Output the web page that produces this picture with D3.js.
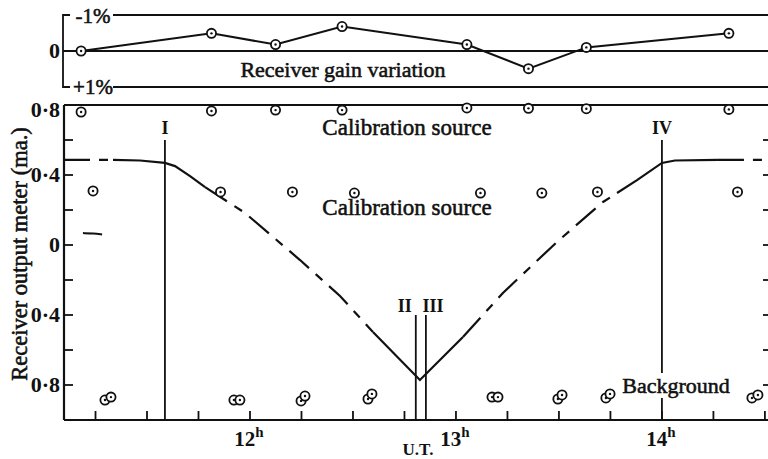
<!DOCTYPE html>
<html>
<head>
<meta charset="utf-8">
<script src="https://cdn.jsdelivr.net/npm/d3@7"></script>
<style>
  body { margin: 0; background: #fff; }
  svg { display: block; }
  text { font-family: "Liberation Serif", "Times New Roman", serif; fill: #111; }
  text.heavy { stroke: #111; stroke-width: 0.55px; }
</style>
</head>
<body>
<div class="chart"></div>
<script>
// calibration times (U.T. hours) - gain points share these
const calibTimes = [11.180, 11.813, 12.124, 12.447, 13.053, 13.352, 13.633, 14.325];
const calibHigh = [0.760, 0.766, 0.771, 0.771, 0.783, 0.781, 0.779, 0.775];
const gainPct = [0, -0.49, -0.18, -0.68, -0.18, 0.49, -0.10, -0.49];

const calibMidTimes = [11.238, 11.857, 12.206, 12.507, 13.119, 13.417, 13.687, 14.367];
const calibMid = [0.309, 0.303, 0.303, 0.297, 0.297, 0.297, 0.303, 0.303];

// background readings, two per sample
const bgTimes = [11.296, 11.325, 11.922, 11.951, 12.248, 12.267, 12.573, 12.592,
  13.175, 13.204, 13.495, 13.515, 13.728, 13.748, 14.437, 14.466];
const bgValues = [-0.886, -0.869, -0.886, -0.886, -0.891, -0.863, -0.880, -0.851,
  -0.869, -0.869, -0.880, -0.857, -0.874, -0.851, -0.874, -0.857];

// output meter trace; flag = segment to the next point is dashed
const curveTimes = [11.097, 11.335, 11.466, 11.587, 11.636, 11.709, 11.782, 11.976, 12.243,
  12.437, 12.597, 12.825, 13.034, 13.228, 13.490, 13.714, 13.782, 13.879, 14.000, 14.063, 14.272, 14.515];
const curveValues = [0.486, 0.486, 0.483, 0.469, 0.451, 0.394, 0.331, 0.183, -0.086,
  -0.291, -0.497, -0.771, -0.526, -0.274, 0.017, 0.246, 0.297, 0.371, 0.469, 0.483, 0.486, 0.486];
const curveDashed = [1, 0, 0, 0, 0, 0, 1, 1, 1, 1, 0, 0, 1, 1, 1, 1, 0, 0, 0, 0, 1];

const strayTimes = [11.189, 11.240, 11.282];
const strayValues = [0.068, 0.067, 0.060];

const contacts = [
  {label: 'I', t: 11.587},
  {label: 'II', t: 12.805},
  {label: 'III', t: 12.854},
  {label: 'IV', t: 14.0}
];

const yTicks = [0.8, 0.4, 0, -0.4, -0.8];
const yTickLabels = ['0·8', '0·4', '0', '0·4', '0·8'];
const yMinor = [0.6, 0.2, -0.2, -0.6];
const hourTicks = [12, 13, 14];

const width = 768, height = 459;

let svg = d3.select('.chart').append('svg')
  .attr('width', width)
  .attr('height', height);

let x = d3.scaleLinear().domain([11.097, 14.515]).range([64, 768]);
let y = d3.scaleLinear().domain([-1, 0.8]).range([420, 105]);
let yGain = d3.scaleLinear().domain([-1, 1]).range([15, 87]);

const ink = '#111';

// ---------- gain panel ----------
let gainG = svg.append('g');
gainG.append('path')
  .attr('d', `M70,${yGain(-1)}H63V${yGain(1)}H70`)
  .attr('fill', 'none').attr('stroke', ink).attr('stroke-width', 1.8);
gainG.append('line').attr('x1', 113).attr('x2', 768)
  .attr('y1', yGain(-1)).attr('y2', yGain(-1)).attr('stroke', ink).attr('stroke-width', 1.8);
gainG.append('line').attr('x1', 113).attr('x2', 768)
  .attr('y1', yGain(1)).attr('y2', yGain(1)).attr('stroke', ink).attr('stroke-width', 1.8);
gainG.append('line').attr('x1', 63).attr('x2', 768)
  .attr('y1', yGain(0)).attr('y2', yGain(0)).attr('stroke', ink).attr('stroke-width', 2);

gainG.append('text').attr('class', 'heavy').attr('x', 93).attr('y', yGain(-1) + 8).attr('text-anchor', 'middle')
  .style('font-size', '21px').text('-1%');
gainG.append('text').attr('class', 'heavy').attr('x', 93).attr('y', yGain(1) + 7).attr('text-anchor', 'middle')
  .style('font-size', '21px').text('+1%');
gainG.append('text').attr('x', 60).attr('y', yGain(0) + 7).attr('text-anchor', 'end')
  .style('font-size', '22px').style('font-weight', 'bold').text('0');
gainG.append('text').attr('class', 'heavy').attr('x', 343).attr('y', 77).attr('text-anchor', 'middle')
  .style('font-size', '22px').text('Receiver gain variation');

let gainLine = d3.line()
  .x((d, i) => x(calibTimes[i]))
  .y(d => yGain(d));

gainG.append('path').datum(gainPct)
  .attr('d', gainLine)
  .attr('fill', 'none').attr('stroke', ink).attr('stroke-width', 2);

// ---------- main panel ----------
let main = svg.append('g');

main.append('line').attr('x1', 64).attr('x2', 770).attr('y1', y(0.8)).attr('y2', y(0.8))
  .attr('stroke', ink).attr('stroke-width', 2.2);
main.append('line').attr('x1', 64).attr('x2', 64).attr('y1', y(0.8)).attr('y2', y(-1))
  .attr('stroke', ink).attr('stroke-width', 2.2);
main.append('line').attr('x1', 64).attr('x2', 770).attr('y1', y(-1)).attr('y2', y(-1))
  .attr('stroke', ink).attr('stroke-width', 2.2);
main.append('line').attr('x1', 771).attr('x2', 771).attr('y1', y(0.8)).attr('y2', y(-1))
  .attr('stroke', ink).attr('stroke-width', 2);

let allY = yTicks.concat(yMinor).filter(v => v < 0.8);
main.selectAll('.ytick').data(allY).enter().append('line')
  .attr('x1', 64).attr('x2', 73)
  .attr('y1', d => y(d)).attr('y2', d => y(d))
  .attr('stroke', ink).attr('stroke-width', 1.8);
main.selectAll('.ytickr').data(allY).enter().append('line')
  .attr('x1', 763).attr('x2', 771)
  .attr('y1', d => y(d)).attr('y2', d => y(d))
  .attr('stroke', ink).attr('stroke-width', 1.8);

main.selectAll('.ylab').data(yTicks).enter().append('text')
  .attr('x', 60)
  .attr('y', (d, i) => y(d) + (i === 0 ? 12 : 7))
  .attr('text-anchor', 'end')
  .style('font-size', '22px').style('font-weight', 'bold')
  .text((d, i) => yTickLabels[i]);

let xTicks = d3.range(11.25, 14.55, 0.25);
main.selectAll('.xtick').data(xTicks).enter().append('line')
  .attr('x1', d => x(d)).attr('x2', d => x(d))
  .attr('y1', y(-1)).attr('y2', y(-1) - 9)
  .attr('stroke', ink).attr('stroke-width', 1.8);

let hl = main.selectAll('.hlab').data(hourTicks).enter().append('text')
  .attr('x', d => x(d) - 1)
  .attr('y', 446)
  .attr('text-anchor', 'middle')
  .style('font-size', '21px').style('font-weight', 'bold');
hl.append('tspan').text(d => d);
hl.append('tspan').attr('dy', -9).style('font-size', '15px').text('h');

main.append('text').attr('x', 418).attr('y', 455).attr('text-anchor', 'middle')
  .style('font-size', '17px').style('font-weight', 'bold').text('U.T.');

main.append('text')
  .attr('class', 'heavy')
  .attr('transform', 'translate(27,254) rotate(-90)')
  .attr('text-anchor', 'middle')
  .style('font-size', '22.5px')
  .text('Receiver output meter (ma.)');

// contact lines
main.selectAll('.contact').data(contacts).enter().append('line')
  .attr('x1', d => x(d.t)).attr('x2', d => x(d.t))
  .attr('y1', d => d.label === 'I' || d.label === 'IV' ? 140 : 315)
  .attr('y2', y(-1))
  .attr('stroke', ink).attr('stroke-width', 1.8);

main.selectAll('.clab').data(contacts).enter().append('text')
  .attr('x', d => x(d.t) + (d.label === 'II' ? -11 : d.label === 'III' ? 7 : 0))
  .attr('y', d => d.label === 'I' || d.label === 'IV' ? 134 : 312)
  .attr('text-anchor', 'middle')
  .style('font-size', '18px').style('font-weight', 'bold')
  .text(d => d.label);

// trace
let pts = curveTimes.map((t, i) => [x(t), y(curveValues[i])]);
let segs = [];
curveDashed.forEach((dsh, i) => {
  let last = segs[segs.length - 1];
  if (last && last.dashed === dsh) last.pts.push(pts[i + 1]);
  else segs.push({dashed: dsh, pts: [pts[i], pts[i + 1]]});
});

let line = d3.line();
main.selectAll('.seg').data(segs).enter().append('path')
  .attr('d', d => line(d.pts))
  .attr('fill', 'none').attr('stroke', ink).attr('stroke-width', 2.2)
  .attr('stroke-dasharray', d => d.dashed ? '26 9 9 9' : null);

main.append('path')
  .datum(strayTimes.map((t, i) => [x(t), y(strayValues[i])]))
  .attr('d', d3.line().curve(d3.curveBasis))
  .attr('fill', 'none').attr('stroke', ink).attr('stroke-width', 2);

// annotations
function label(txt, cx, by, size) {
  let g = main.append('g');
  let t = g.append('text').attr('class', 'heavy').attr('x', cx).attr('y', by).attr('text-anchor', 'middle')
    .style('font-size', size + 'px').text(txt);
  let b = t.node().getBBox();
  g.insert('rect', 'text').attr('x', b.x - 2).attr('y', b.y).attr('width', b.width + 4)
    .attr('height', b.height).attr('fill', '#fff');
}
label('Calibration source', 407, 135, 23);
label('Calibration source', 407, 215, 23);
label('Background', 676, 393, 22);

// markers
function marker(g, cx, cy) {
  g.append('circle').attr('cx', cx).attr('cy', cy).attr('r', 4.6)
    .attr('fill', '#fff').attr('stroke', ink).attr('stroke-width', 1.8);
  g.append('circle').attr('cx', cx).attr('cy', cy).attr('r', 1.2).attr('fill', ink);
}

let marks = svg.append('g');
gainPct.forEach((v, i) => marker(marks, x(calibTimes[i]), yGain(v)));
calibHigh.forEach((v, i) => marker(marks, x(calibTimes[i]), y(v)));
calibMid.forEach((v, i) => marker(marks, x(calibMidTimes[i]), y(v)));
bgValues.forEach((v, i) => marker(marks, x(bgTimes[i]), y(v)));
</script>
</body>
</html>
